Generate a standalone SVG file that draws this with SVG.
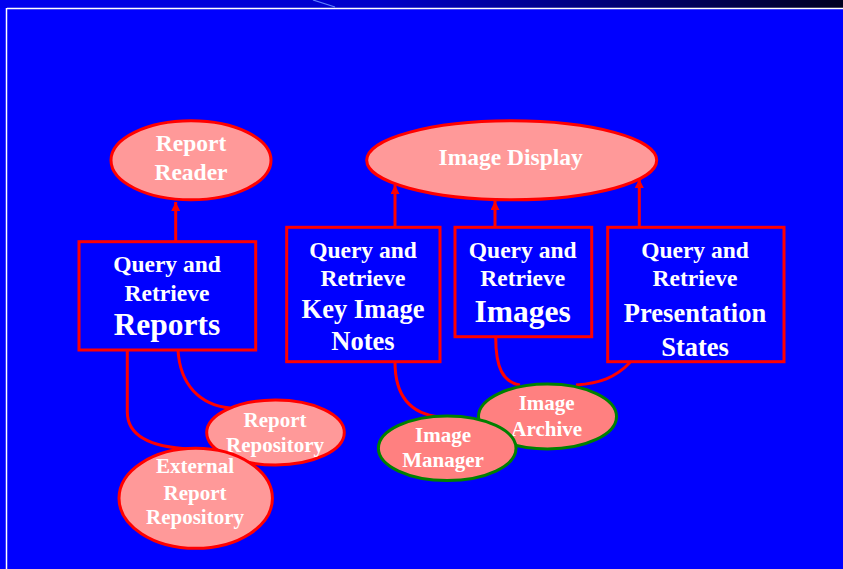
<svg xmlns="http://www.w3.org/2000/svg" width="843" height="569" viewBox="0 0 843 569">
<defs>
<linearGradient id="band" x1="0" y1="0" x2="1" y2="0">
<stop offset="0" stop-color="#0000f0"/>
<stop offset="0.45" stop-color="#0000c8"/>
<stop offset="0.8" stop-color="#000060"/>
<stop offset="1" stop-color="#000020"/>
</linearGradient>
<marker id="ah" viewBox="0 0 10 10" refX="10" refY="5" markerWidth="9" markerHeight="9" markerUnits="userSpaceOnUse" orient="auto">
<path d="M0,0 L10,5 L0,10 z" fill="#ff0000"/>
</marker>
</defs>
<style>
.box{fill:#0000ff;stroke:#ff0000;stroke-width:3}
.ell{fill:#ff9999;stroke:#ff0000;stroke-width:3}
.ellg{fill:#ff8080;stroke:#008000;stroke-width:3}
.conn{fill:none;stroke:#ff0000;stroke-width:3}
text{font-family:"Liberation Serif","Times New Roman",serif;font-weight:bold;fill:#ffffff;text-anchor:middle}
.t23{font-size:23.5px}
.t21{font-size:21px}
.t26{font-size:26.5px}
.t31{font-size:31.5px}
</style>
<rect x="0" y="0" width="843" height="569" fill="#0000ff"/>
<rect x="0" y="0" width="843" height="8" fill="url(#band)"/>
<line x1="313" y1="0" x2="335" y2="7" stroke="#6080ff" stroke-width="1.2"/>
<line x1="7" y1="8.5" x2="843" y2="8.5" stroke="#ffffff" stroke-width="1.5"/>
<line x1="6.5" y1="8" x2="6.5" y2="569" stroke="#ffffff" stroke-width="1.5"/>

<g id="connectors">
<line class="conn" x1="175.7" y1="242" x2="175.7" y2="202" marker-end="url(#ah)"/>
<line class="conn" x1="395" y1="227" x2="395" y2="185" marker-end="url(#ah)"/>
<line class="conn" x1="495" y1="227" x2="495" y2="201" marker-end="url(#ah)"/>
<line class="conn" x1="639.3" y1="227" x2="639.3" y2="179" marker-end="url(#ah)"/>
<path class="conn" d="M127.3,350 L127.3,412 Q127.3,446 190,449"/>
<path class="conn" d="M178,350 C180,385 200,405 230,408"/>
<path class="conn" d="M395,362 C395,395 410,414 440,417"/>
<path class="conn" d="M495.7,337 C495.7,368 503,382 520,385"/>
<path class="conn" d="M630,362.5 C615,378 600,383 576,385"/>
</g>

<g id="report-reader">
<ellipse class="ell" cx="191" cy="160.3" rx="80" ry="39.5"/>
<text class="t23" x="191" y="150.5">Report</text>
<text class="t23" x="191" y="180">Reader</text>
</g>

<g id="image-display">
<ellipse class="ell" cx="511.7" cy="160.3" rx="145" ry="39.5"/>
<text class="t23" x="510.7" y="165">Image Display</text>
</g>

<g id="qr-reports">
<rect class="box" x="79" y="241.7" width="176.7" height="108.3"/>
<text class="t23" x="167" y="272">Query and</text>
<text class="t23" x="167" y="301">Retrieve</text>
<text class="t31" x="167" y="335">Reports</text>
</g>

<g id="qr-key-image-notes">
<rect class="box" x="286.7" y="227.3" width="153.3" height="134.4"/>
<text class="t23" x="363" y="258">Query and</text>
<text class="t23" x="363" y="286">Retrieve</text>
<text class="t26" x="363" y="318">Key Image</text>
<text class="t26" x="363" y="350">Notes</text>
</g>

<g id="qr-images">
<rect class="box" x="455" y="227.3" width="136.7" height="109.4"/>
<text class="t23" x="522.7" y="258">Query and</text>
<text class="t23" x="522.7" y="286">Retrieve</text>
<text class="t31" x="522.7" y="321.7">Images</text>
</g>

<g id="qr-presentation-states">
<rect class="box" x="607.7" y="227.3" width="176.3" height="134.4"/>
<text class="t23" x="695" y="258">Query and</text>
<text class="t23" x="695" y="286">Retrieve</text>
<text class="t26" x="695" y="321.7">Presentation</text>
<text class="t26" x="695" y="355.7">States</text>
</g>

<g id="report-repository">
<ellipse class="ell" cx="275.5" cy="432.5" rx="68.8" ry="32.5"/>
<text class="t21" x="275" y="426.7">Report</text>
<text class="t21" x="275" y="451.7">Repository</text>
</g>

<g id="external-report-repository">
<ellipse class="ell" cx="195.7" cy="498.3" rx="76.7" ry="50"/>
<text class="t21" x="195" y="473.3">External</text>
<text class="t21" x="195" y="500">Report</text>
<text class="t21" x="195" y="524.3">Repository</text>
</g>

<g id="image-archive">
<ellipse class="ellg" cx="547.5" cy="416.5" rx="69" ry="32.5"/>
<text class="t21" x="546.7" y="410">Image</text>
<text class="t21" x="546.7" y="436">Archive</text>
</g>

<g id="image-manager">
<ellipse class="ellg" cx="447.2" cy="448.3" rx="68.8" ry="32.3"/>
<text class="t21" x="443" y="441.7">Image</text>
<text class="t21" x="443" y="467.3">Manager</text>
</g>
</svg>
